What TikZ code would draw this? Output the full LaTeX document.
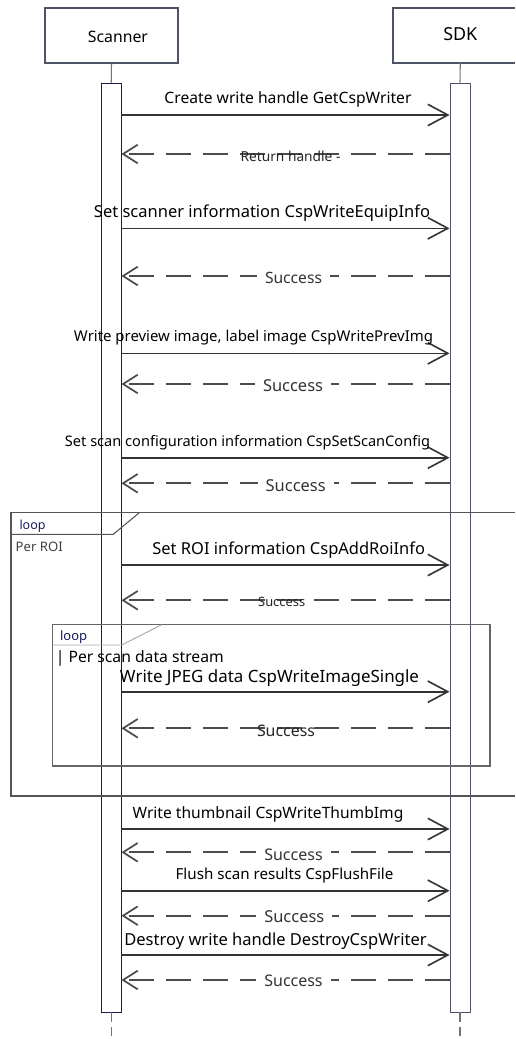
\documentclass[tikz,border=0pt]{standalone}
\usepackage{fontspec}
\setmainfont{Noto Sans}
\usetikzlibrary{arrows.meta}
\definecolor{boxc}{HTML}{4D5468}
\definecolor{barc}{HTML}{1C1C4C}
\definecolor{framec}{HTML}{555555}
\definecolor{linkc}{HTML}{333333}
\definecolor{loopc}{HTML}{1A1A60}
% scale a label to a given width
\newcommand\fitto[2]{\resizebox{#1}{!}{#2}}
\begin{document}
\begin{tikzpicture}[x=0.75pt,y=-0.75pt,
  actor/.style={draw=boxc,line width=0.9pt,minimum width=99.75pt,minimum height=41.25pt,inner sep=0pt},
  bar/.style={draw=barc,fill=white,line width=0.7pt,inner sep=0pt,minimum height=696.75pt},
  lifeline/.style={draw=black!55,line width=0.8pt},
  frame/.style={draw=framec,line width=0.8pt},
  call/.style={draw=linkc,line width=1.2pt,-{Straight Barb[length=15pt,width=16pt,line width=1.2pt]}},
  reply/.style={draw=black!70,line width=1.5pt,dash pattern=on 18.75pt off 9pt,-{Straight Barb[length=11pt,width=14pt,line width=1.3pt]}},
  msg/.style={inner sep=0pt,text=black},
  ret/.style={inner xsep=6pt,inner ysep=1pt,text=black!80,fill=white},
  retov/.style={inner sep=0pt,text=black!85},
  tag/.style={inner sep=0pt,anchor=center}]
\useasboundingbox (0,0) rectangle (515,1039);

% participants
\node[actor] (scan) at (111.5,35.5) {};
\node[tag] (scant) at (118,37) {\fitto{45pt}{Scanner}};
\draw[boxc,line width=0.9pt] (515,8) -- (393,8) -- (393,63) -- (515,63);
\node[tag] (sdk) at (460.3,34) {\fitto{25.5pt}{SDK}};

% activation bars
\node[bar,minimum width=14.6pt] (sa) at (111.25,547.5) {};
\node[bar,minimum width=15pt,draw=boxc] (ka) at (460,547.5) {};

% lifelines
\draw[lifeline] (scan.south) -- (sa.north);
\draw[lifeline] (sdk |- 0,63) -- (ka.north);
\coordinate (sEnd) at (111.25,1039);
\coordinate (kEnd) at (460,1039);
\draw[lifeline,dash pattern=on 7pt off 4pt] (sa.south) -- (sEnd);
\draw[lifeline,dash pattern=on 7pt off 4pt] (ka.south) -- (kEnd);

% outer loop frame
\draw[frame] (515,512.7) -- (11,512.7) -- (11,796) -- (515,796);
\draw[frame] (11,534.3) -- (113.3,534.3) -- (139.3,512.7);
\node[tag,text=loopc] (loopA) at (32.5,526) {\fitto{19.5pt}{loop}};
\node[tag,text=black!75] (roi) at (39.2,546.7) {\fitto{35.25pt}{Per ROI}};

% inner loop frame
\draw[frame,draw=black!60] (52.7,624.7) rectangle (490,766);
\draw[draw=black!35,line width=0.7pt] (52.7,645) -- (121.7,645) -- (161.7,624.7);
\node[tag,text=loopc] (loopB) at (73.6,637.5) {\fitto{20.25pt}{loop}};
\node[tag] (stream) at (139.8,658.3) {\fitto{126pt}{| Per scan data stream}};

% messages
\draw[call] (sa.east |- 0,115) -- (ka.west |- 0,115);
\node[msg] (m1) at (288,99) {\fitto{185.25pt}{Create write handle GetCspWriter}};
\draw[reply] (ka.west |- 0,154) -- (sa.east |- 0,154);
\node[retov] (r1) at (290.5,156) {\fitto{75pt}{Return handle -}};

\draw[call] (sa.east |- 0,228.3) -- (ka.west |- 0,228.3);
\node[msg] (m2) at (262,213) {\fitto{252pt}{Set scanner information CspWriteEquipInfo}};
\draw[reply] (ka.west |- 0,276) -- (sa.east |- 0,276);
\node[ret] (r2) at (293.5,278) {\fitto{42.75pt}{Success}};

\draw[call] (sa.east |- 0,353.3) -- (ka.west |- 0,353.3);
\node[msg] (m3) at (253.5,338) {\fitto{269.25pt}{Write preview image, label image CspWritePrevImg}};
\draw[reply] (ka.west |- 0,384) -- (sa.east |- 0,384);
\node[ret] (r3) at (293,386) {\fitto{45pt}{Success}};

\draw[call] (sa.east |- 0,457.7) -- (ka.west |- 0,457.7);
\node[msg] (m4) at (247.5,443) {\fitto{273.75pt}{Set scan configuration information CspSetScanConfig}};
\draw[reply] (ka.west |- 0,483.3) -- (sa.east |- 0,483.3);
\node[ret] (r4) at (295.7,486) {\fitto{45pt}{Success}};

\draw[call] (sa.east |- 0,565) -- (ka.west |- 0,565);
\node[msg] (m5) at (288.7,550) {\fitto{204.5pt}{Set ROI information CspAddRoiInfo}};
\draw[reply] (ka.west |- 0,600.3) -- (sa.east |- 0,600.3);
\node[retov] (r5) at (281.7,601.5) {\fitto{35.25pt}{Success}};

\draw[call] (sa.east |- 0,691.7) -- (ka.west |- 0,691.7);
\node[msg] (m6) at (269.5,678.3) {\fitto{224.25pt}{Write JPEG data CspWriteImageSingle}};
\draw[reply] (ka.west |- 0,728.3) -- (sa.east |- 0,728.3);
\node[retov] (r6) at (286,730.5) {\fitto{43.5pt}{Success}};

\draw[call] (sa.east |- 0,829) -- (ka.west |- 0,829);
\node[msg] (m7) at (268,814) {\fitto{203pt}{Write thumbnail CspWriteThumbImg}};
\draw[reply] (ka.west |- 0,852.3) -- (sa.east |- 0,852.3);
\node[ret] (r7) at (293.5,854.3) {\fitto{43.8pt}{Success}};

\draw[call] (sa.east |- 0,890.7) -- (ka.west |- 0,890.7);
\node[msg] (m8) at (284.5,876) {\fitto{163.3pt}{Flush scan results CspFlushFile}};
\draw[reply] (ka.west |- 0,915.7) -- (sa.east |- 0,915.7);
\node[ret] (r8) at (294.3,916.7) {\fitto{45pt}{Success}};

\draw[call] (sa.east |- 0,955) -- (ka.west |- 0,955);
\node[msg] (m9) at (275.5,940.7) {\fitto{226.7pt}{Destroy write handle DestroyCspWriter}};
\draw[reply] (ka.west |- 0,980) -- (sa.east |- 0,980);
\node[ret] (r9) at (293.5,981) {\fitto{43.7pt}{Success}};
\end{tikzpicture}
\end{document}
